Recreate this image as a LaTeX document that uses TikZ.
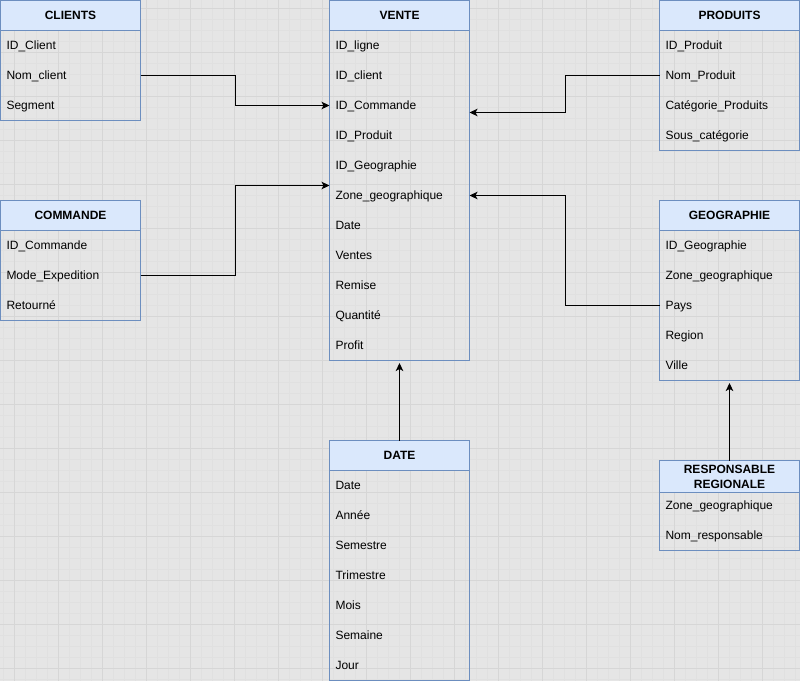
\documentclass[tikz,border=0pt]{standalone}
\usepackage{fontspec}
\setmainfont{Liberation Sans}
\usetikzlibrary{arrows.meta,calc}
\definecolor{bgc}{HTML}{E5E5E5}
\definecolor{gminor}{HTML}{E0E0E0}
\definecolor{gmajor}{HTML}{D6D6D6}
\definecolor{hdrc}{HTML}{DAE8FC}
\definecolor{bdrc}{HTML}{6C8EBF}
\newcommand\rowstrut{\rule[-4pt]{0pt}{16.6pt}}
\newcommand\topstrut{\rule{0pt}{12.6pt}}
\newcommand\botstrut{\rule[-4pt]{0pt}{4pt}}
\newcommand\mktable[6]{%
  \node[hdrbox,anchor=north west] (#1-h) at (#2,#3) {\topstrut #5\botstrut};
  \foreach \t [count=\k] in {#6} {
    \node[rowbox,anchor=north west] (#1-\k) at ({#2},{#3+30*\k}) {\rowstrut\t};
  }
  \node[tblbox,minimum height={30+30*#4},anchor=north west] (#1) at (#2,#3) {};
}
\begin{document}
\begin{tikzpicture}[x=1pt,y=-1pt,
  every node/.style={font=\fontsize{12}{15}\selectfont},
  tblbox/.style={draw=bdrc,line width=1pt,minimum width=140pt,outer sep=0pt,inner sep=0pt},
  hdrbox/.style={draw=bdrc,fill=hdrc,line width=1pt,minimum width=140pt,minimum height=30pt,
    text width=128pt,align=center,inner xsep=6pt,inner ysep=0pt,outer sep=0pt,
    font=\fontsize{12}{15}\selectfont\bfseries},
  rowbox/.style={minimum width=140pt,minimum height=30pt,text width=128pt,align=left,
    inner xsep=6pt,inner ysep=0pt,outer sep=0pt},
  conn/.style={draw=black,line width=1pt,-{Stealth[length=8pt,width=7.5pt,inset=2pt]}}]
\useasboundingbox (0,0) rectangle (800,681);
\fill[bgc] (0,0) rectangle (800,681);
% grid
\foreach \i in {0,...,73} {\draw[gminor,line width=1pt] ({3.5+11*\i},0) -- ({3.5+11*\i},681);}
\foreach \i in {0,...,62} {\draw[gminor,line width=1pt] (0,{-2.5+11*\i}) -- (800,{-2.5+11*\i});}
\foreach \i in {0,...,18} {\draw[gmajor,line width=1pt] ({14.5+44*\i},0) -- ({14.5+44*\i},681);}
\foreach \i in {0,...,15} {\draw[gmajor,line width=1pt] (0,{8.5+44*\i}) -- (800,{8.5+44*\i});}
% tables
\mktable{clients}{0.5}{0.5}{3}{CLIENTS}{ID\_Client,Nom\_client,Segment}
\mktable{vente}{329.5}{0.5}{11}{VENTE}{ID\_ligne,ID\_client,ID\_Commande,ID\_Produit,ID\_Geographie,Zone\_geographique,Date,Ventes,Remise,Quantité,Profit}
\mktable{produits}{659.5}{0.5}{4}{PRODUITS}{ID\_Produit,Nom\_Produit,Catégorie\_Produits,Sous\_catégorie}
\mktable{commande}{0.5}{200.5}{3}{COMMANDE}{ID\_Commande,Mode\_Expedition,Retourné}
\mktable{geo}{659.5}{200.5}{5}{GEOGRAPHIE}{ID\_Geographie,Zone\_geographique,Pays,Region,Ville}
\mktable{date}{329.5}{440.5}{7}{DATE}{Date,Année,Semestre,Trimestre,Mois,Semaine,Jour}
\mktable{resp}{659.5}{460.5}{2}{RESPONSABLE\\REGIONALE}{Zone\_geographique,Nom\_responsable}
% connector targets
\coordinate (vt-cmd) at (329.5,185.5);
\coordinate (vt-prod) at (469.5,112.5);
% connectors
\draw[conn] (clients-2.east) -- ++(95,0) |- (vente-3.west);
\draw[conn] (commande-2.east) -- ++(95,0) |- (vt-cmd);
\draw[conn] (produits-2.west) -- ++(-94,0) |- (vt-prod);
\draw[conn] (geo-3.west) -- ++(-94,0) |- (vente-6.east);
\draw[conn,shorten >=2.5pt] (date.north) -- (vente.south);
\draw[conn,shorten >=2.5pt] (resp.north) -- (geo.south);
\end{tikzpicture}
\end{document}
